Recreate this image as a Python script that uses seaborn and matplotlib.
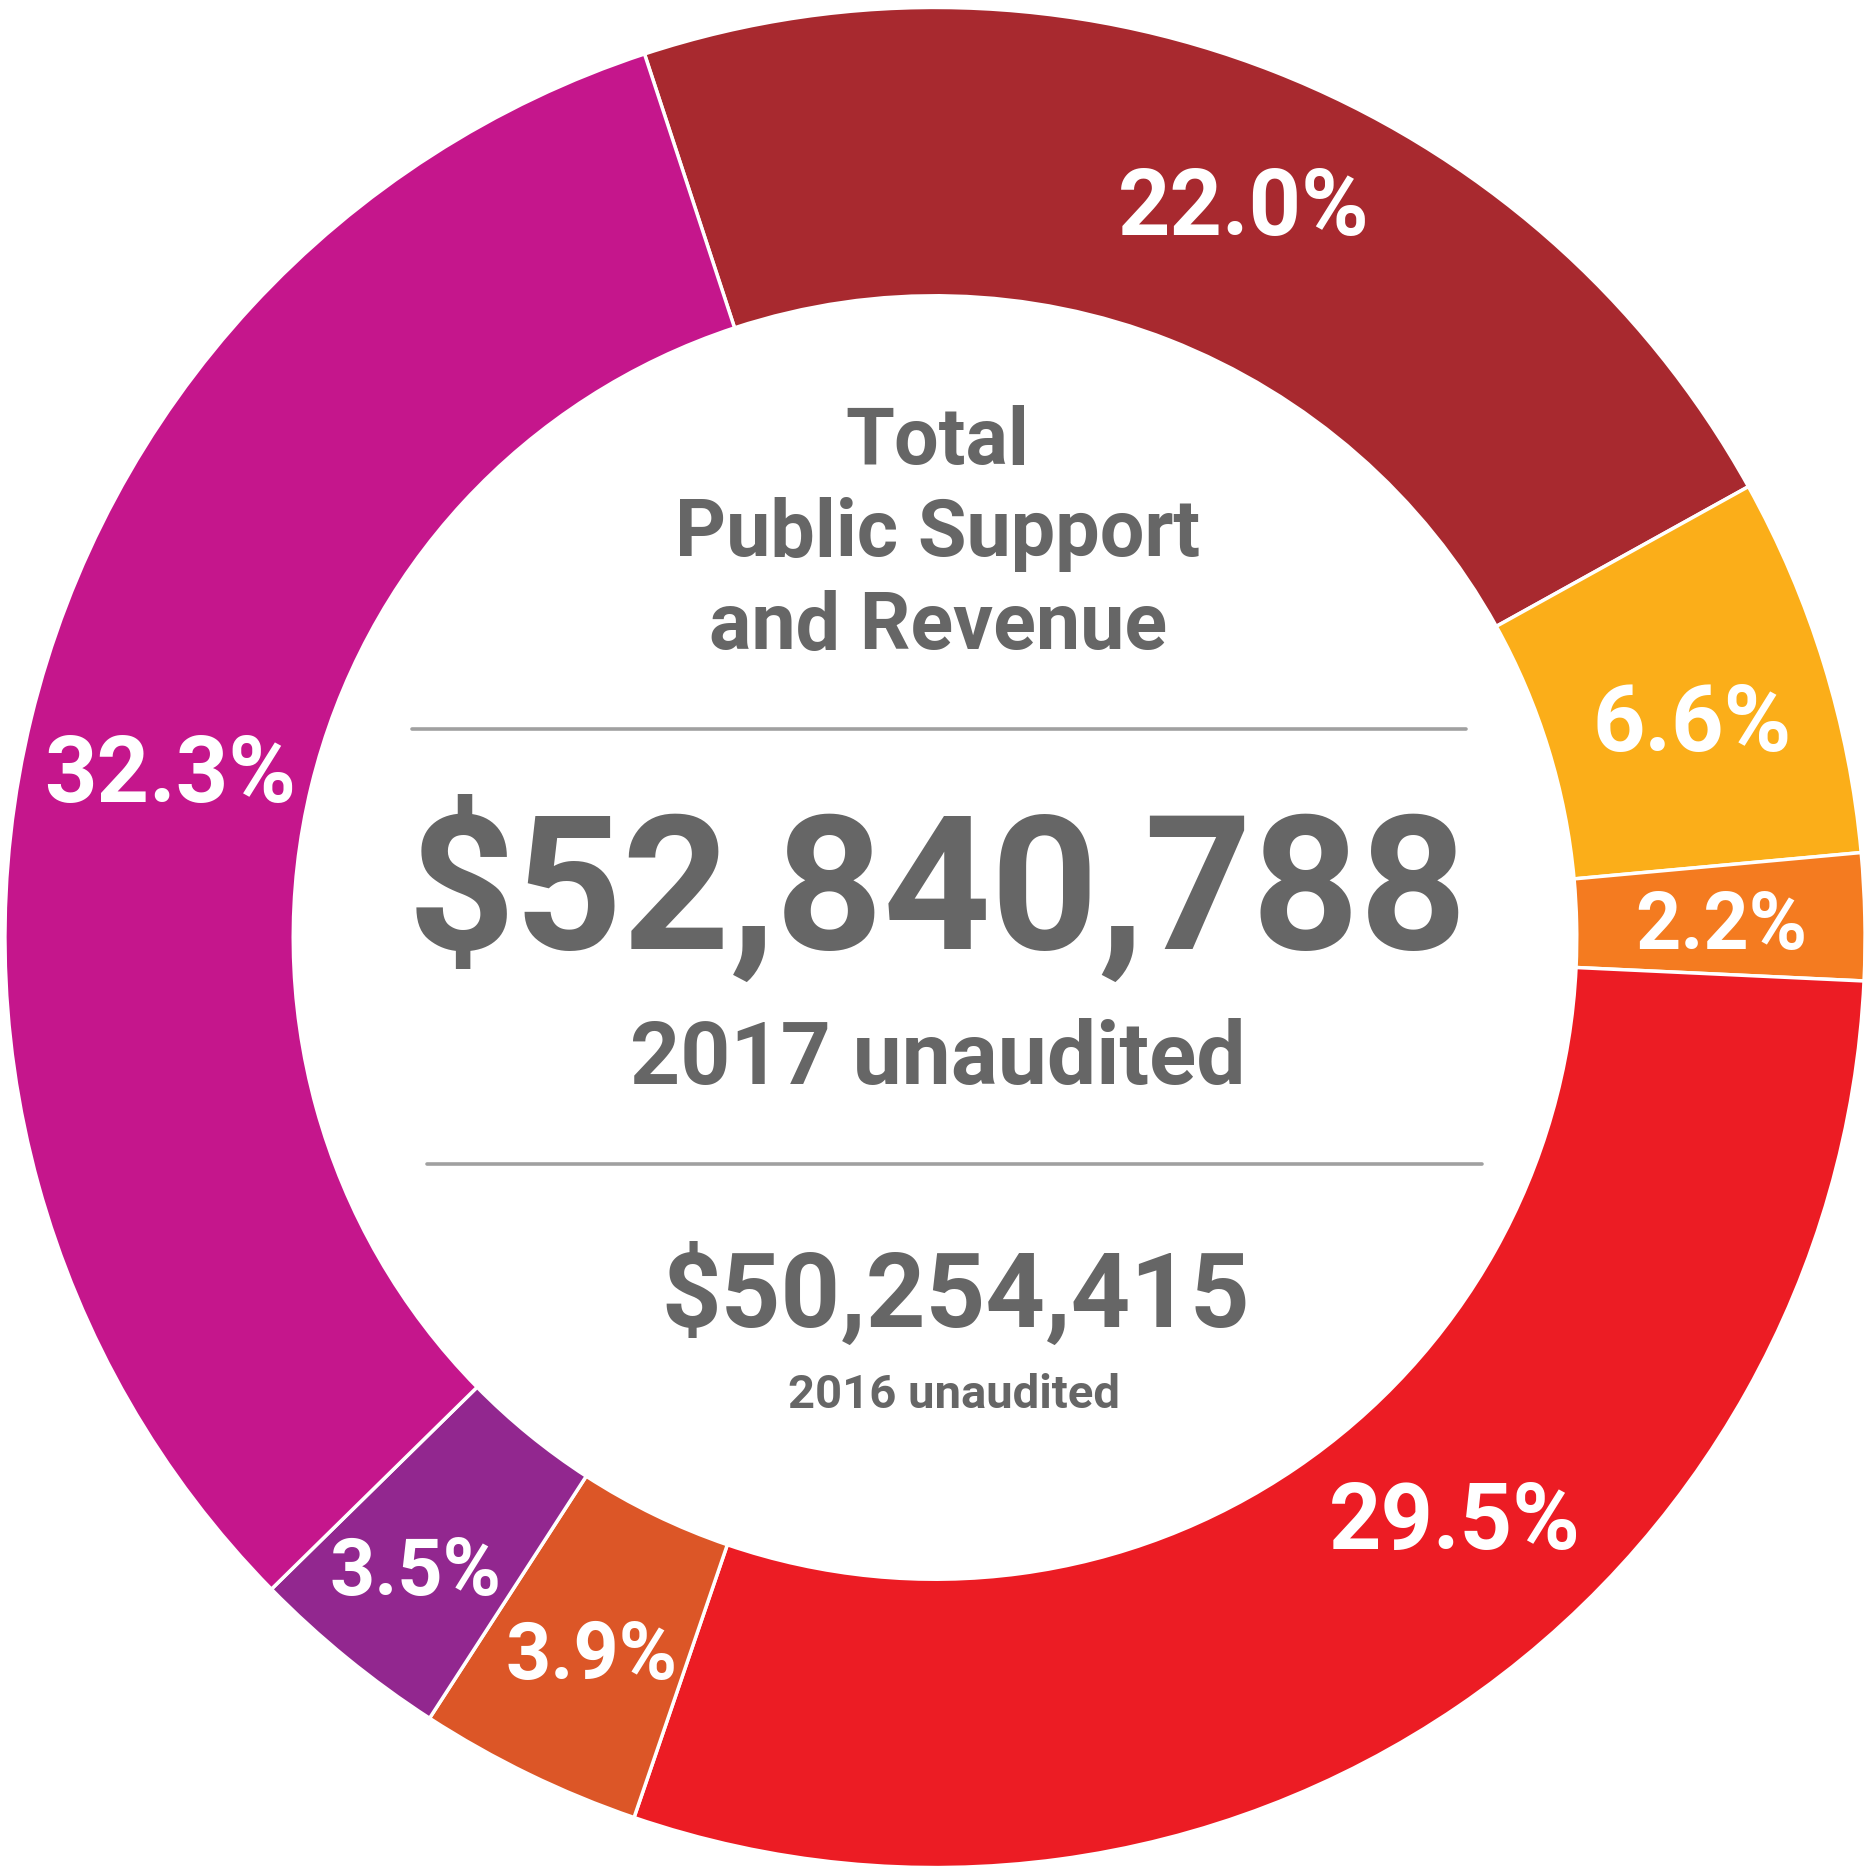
import matplotlib
matplotlib.use('Agg')
import matplotlib.pyplot as plt
import numpy as np
import seaborn as sns

# Data
shares = [22.0, 6.6, 2.2, 29.5, 3.9, 3.5, 32.3]
pct_labels = ['22.0%', '6.6%', '2.2%', '29.5%', '3.9%', '3.5%', '32.3%']
slice_colors = ['#A8292F', '#FBAE19', '#F47B20', '#EC1C24', '#DC5627', '#92278F', '#C5168C']
total_2017 = '$52,840,788'
total_2016 = '$50,254,415'

sns.set_theme(style='white')
plt.rcParams['font.family'] = ['Roboto', 'DejaVu Sans']

fig = plt.figure(figsize=(18.7, 18.75), dpi=100)
ax = fig.add_axes([0, 0, 1, 1])

wedges, _ = ax.pie(shares, colors=sns.color_palette(slice_colors), startangle=108.2,
                   counterclock=False, radius=1.0,
                   wedgeprops=dict(width=0.31, edgecolor='white', linewidth=2.5))

# label placement relative to each wedge middle (degrees, radius)
label_nudge = [-1.4, -1.0, -0.1, 7.7, 0.2, -0.3, 1.3]
label_r = [0.857, 0.847, 0.846, 0.837, 0.851, 0.877, 0.842]
for w, lab, share, nudge, r in zip(wedges, pct_labels, shares, label_nudge, label_r):
    fs = 66 if share > 5 else 57   # thin slices get smaller labels
    half_cap = fs * 100 / 72 * 0.711 / 2 / 930
    mid = np.deg2rad((w.theta1 + w.theta2) / 2 + nudge)
    ax.text(r * np.cos(mid), r * np.sin(mid) - half_cap, lab, color='white',
            fontsize=fs, fontweight='bold', ha='center', va='baseline')

grey = '#666666'
ax.text(0.003, 0.509, 'Total', color=grey, fontsize=57, fontweight='bold', ha='center', va='baseline')
ax.text(0.003, 0.410, 'Public Support', color=grey, fontsize=57, fontweight='bold', ha='center', va='baseline')
ax.text(0.003, 0.310, 'and Revenue', color=grey, fontsize=57, fontweight='bold', ha='center', va='baseline')
ax.plot([-0.562, 0.571], [0.224, 0.224], color='#A0A0A0', lw=2.6)
ax.text(0.003, -0.012, total_2017, color=grey, fontsize=135, fontweight='bold', ha='center', va='baseline')
ax.text(0.003, -0.158, '2017 unaudited', color=grey, fontsize=63, fontweight='bold', ha='center', va='baseline')
ax.plot([-0.546, 0.588], [-0.243, -0.243], color='#A0A0A0', lw=2.6)
ax.text(0.022, -0.419, total_2016, color=grey, fontsize=75, fontweight='bold', ha='center', va='baseline')
ax.text(0.020, -0.506, '2016 unaudited', color=grey, fontsize=34, fontweight='bold', ha='center', va='baseline')

ax.set_xlim(-1.005, 1.005)
ax.set_ylim(-1.008, 1.008)
ax.set_aspect('equal')
ax.axis('off')

fig.savefig('out.png', dpi=100, facecolor='white')
